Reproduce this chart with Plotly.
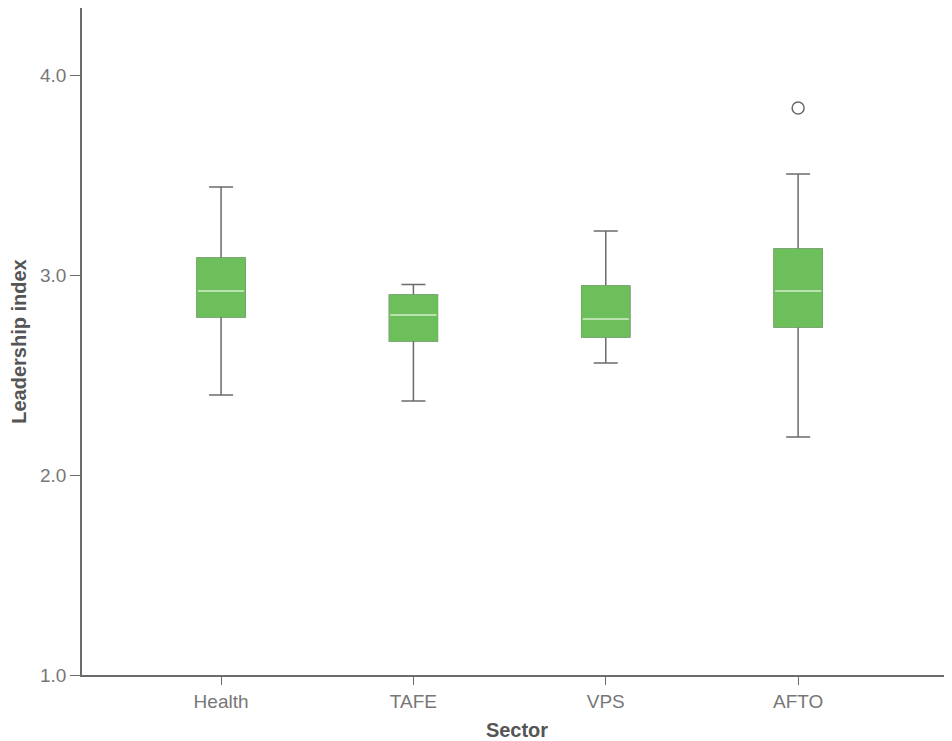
import plotly.graph_objects as go

sectors = ["Health", "TAFE", "VPS", "AFTO"]
lower_whisker = [2.40, 2.37, 2.56, 2.19]
q1_values = [2.79, 2.67, 2.69, 2.74]
median_values = [2.92, 2.80, 2.78, 2.92]
q3_values = [3.085, 2.90, 2.945, 3.13]
upper_whisker = [3.44, 2.953, 3.22, 3.505]
outlier_sectors = ["AFTO"]
outlier_values = [3.835]

GREEN = "#6cbf5a"
MEDIAN = "#d6eecd"
GREY = "#6b6b6b"
BOX_W = 0.25

fig = go.Figure()

# whiskers + caps (grey)
fig.add_trace(go.Box(
    x=sectors, q1=q1_values, median=median_values, q3=q3_values,
    lowerfence=lower_whisker, upperfence=upper_whisker,
    width=BOX_W, whiskerwidth=0.5, boxpoints=False,
    fillcolor=GREEN, line=dict(color=GREY, width=1.5),
    showlegend=False, hoverinfo="skip",
))
# green box body
fig.add_trace(go.Box(
    x=sectors, q1=q1_values, median=q1_values, q3=q3_values,
    lowerfence=q1_values, upperfence=q3_values,
    width=BOX_W, whiskerwidth=0, boxpoints=False,
    fillcolor=GREEN, line=dict(color=GREEN, width=1),
    showlegend=False, hoverinfo="skip",
))
# median lines (light)
fig.add_trace(go.Box(
    x=sectors, q1=median_values, median=median_values, q3=median_values,
    lowerfence=median_values, upperfence=median_values,
    width=BOX_W * 0.96, whiskerwidth=0, boxpoints=False,
    fillcolor=MEDIAN, line=dict(color=MEDIAN, width=1.5),
    showlegend=False, hoverinfo="skip",
))
# outlier
fig.add_trace(go.Scatter(
    x=outlier_sectors, y=outlier_values, mode="markers",
    marker=dict(symbol="circle-open", size=12, color=GREY, line=dict(width=1.5, color=GREY)),
    showlegend=False, hoverinfo="skip",
))

fig.update_layout(
    width=944, height=733,
    margin=dict(l=74, r=0, t=0, b=66),
    paper_bgcolor="white", plot_bgcolor="white",
    boxmode="overlay",
    font=dict(family="Liberation Sans, Arial, sans-serif", color="#777777", size=19),
)
fig.update_xaxes(
    type="category", categoryorder="array", categoryarray=sectors,
    range=[-0.723, 3.80],
    showline=True, linecolor=GREY, linewidth=1.5,
    ticks="outside", ticklen=8, tickcolor=GREY, tickwidth=1,
    showgrid=False, zeroline=False,
    tickfont=dict(size=19, color="#777777"),
    title=dict(text="<b>Sector</b>", font=dict(size=20, color="#555555"), standoff=12),
)
fig.update_yaxes(
    range=[1.0, 4.335],
    tickvals=[1, 2, 3, 4], ticktext=["1.0", "2.0", "3.0", "4.0"],
    showline=True, linecolor=GREY, linewidth=1.5,
    ticks="outside", ticklen=10, tickcolor=GREY, tickwidth=1,
    showgrid=False, zeroline=False,
    tickfont=dict(size=19, color="#777777"),
    title=dict(text="<b>Leadership index</b>", font=dict(size=20, color="#555555"), standoff=12),
)

fig.write_html("out.html")
